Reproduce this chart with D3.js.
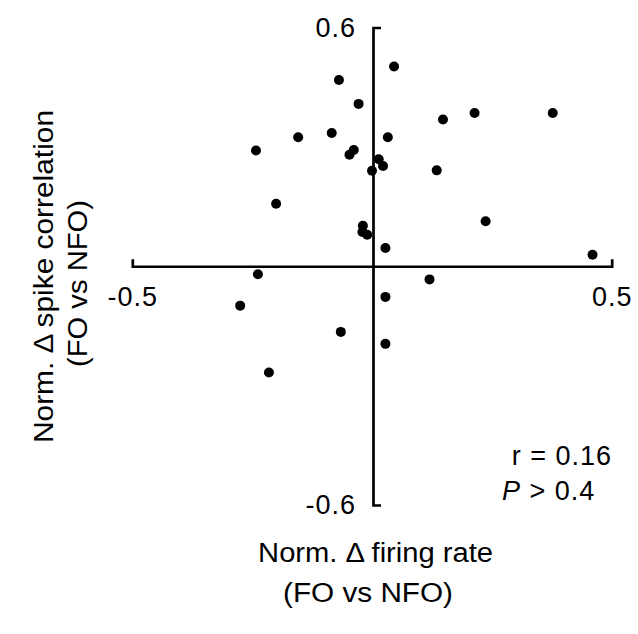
<!DOCTYPE html>
<html>
<head>
<meta charset="utf-8">
<script src="https://cdn.jsdelivr.net/npm/d3@7"></script>
<style>
    body { margin: 0; background: #fff; }
    svg { font-family: "Liberation Sans", Arial, sans-serif; }
    .axis path { stroke: #000; stroke-width: 2.7px; fill: none; }
    .axis line { display: none; }
    .axis text { font-size: 27px; fill: #000; letter-spacing: 1px; font-family: "Liberation Sans", Arial, sans-serif; }
</style>
</head>
<body>
<div id="chart"></div>
<script>
// normalised change in firing rate (x) vs spike correlation (y), FO vs NFO
const firingRate = [
    0.046, -0.069, -0.028, 0.148, 0.214, 0.377, -0.154, -0.084, 0.033, -0.242,
    -0.038, -0.047, 0.014, 0.023, 0.0, 0.135, -0.200, 0.237, -0.019, -0.020,
    -0.010, 0.028, 0.460, -0.238, 0.120, -0.275, 0.028, -0.065, 0.028, -0.215
];
const spikeCorr = [
    0.502, 0.468, 0.408, 0.369, 0.385, 0.385, 0.324, 0.335, 0.324, 0.291,
    0.292, 0.280, 0.269, 0.252, 0.240, 0.241, 0.157, 0.113, 0.102, 0.086,
    0.079, 0.046, 0.029, -0.020, -0.033, -0.099, -0.077, -0.165, -0.195, -0.267
];
const xTicks = [-0.5, 0.5];
const yTicks = [-0.6, 0.6];
const statR = "0.16";
const statP = "0.4";

const width = 638, height = 634;

const svg = d3.select("#chart").append("svg")
    .attr("width", width)
    .attr("height", height);

const x = d3.scaleLinear().domain([-0.5, 0.5]).range([132.3, 611.7]);
const y = d3.scaleLinear().domain([-0.6, 0.6]).range([505, 27.5]);

const fmt = d => d3.format(".1f")(d).replace("\u2212", "-");

const xAxis = d3.axisBottom(x)
    .tickValues(xTicks)
    .tickFormat(fmt)
    .tickSizeInner(0)
    .tickSizeOuter(-7)
    .tickPadding(21);

const yAxis = d3.axisLeft(y)
    .tickValues(yTicks)
    .tickFormat(fmt)
    .tickSizeInner(0)
    .tickSizeOuter(-8)
    .tickPadding(17);

svg.append("g")
    .attr("class", "axis")
    .attr("transform", `translate(0,${y(0)})`)
    .call(xAxis);

svg.append("g")
    .attr("class", "axis")
    .attr("transform", `translate(${x(0) + 1},0)`)
    .call(yAxis);

svg.append("g")
    .selectAll("circle")
    .data(d3.zip(firingRate, spikeCorr))
    .join("circle")
    .attr("cx", d => x(d[0]))
    .attr("cy", d => y(d[1]))
    .attr("r", 5)
    .attr("fill", "#000");

// axis titles
const xt = svg.append("g").attr("font-size", 27);
xt.append("text")
    .attr("x", 375.6).attr("y", 562)
    .attr("text-anchor", "middle")
    .attr("textLength", 235).attr("lengthAdjust", "spacingAndGlyphs")
    .text("Norm. \u0394 firing rate");
xt.append("text")
    .attr("x", 368).attr("y", 602)
    .attr("text-anchor", "middle")
    .attr("textLength", 170).attr("lengthAdjust", "spacingAndGlyphs")
    .text("(FO vs NFO)");

const yt = svg.append("g").attr("font-size", 27);
yt.append("text")
    .attr("transform", "translate(53,276.5) rotate(-90)")
    .attr("text-anchor", "middle")
    .attr("textLength", 333).attr("lengthAdjust", "spacingAndGlyphs")
    .text("Norm. \u0394\u2009spike correlation");
yt.append("text")
    .attr("transform", "translate(87,283.5) rotate(-90)")
    .attr("text-anchor", "middle")
    .attr("textLength", 167).attr("lengthAdjust", "spacingAndGlyphs")
    .text("(FO vs NFO)");

// stats
const st = svg.append("g").attr("font-size", 27).attr("letter-spacing", "1px");
st.append("text")
    .attr("x", 612).attr("y", 465)
    .attr("text-anchor", "end")
    .text(`r = ${statR}`);
const pt = st.append("text")
    .attr("x", 502).attr("y", 500);
pt.append("tspan").attr("font-style", "italic").text("P");
pt.append("tspan").text(` > ${statP}`);
</script>
</body>
</html>
